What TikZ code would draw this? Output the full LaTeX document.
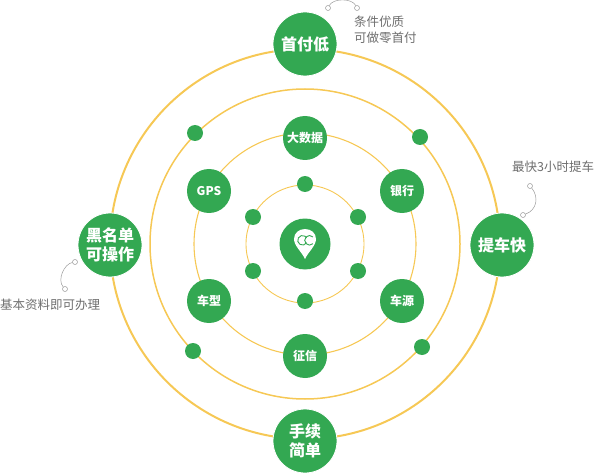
\documentclass[tikz,border=0pt]{standalone}
\usepackage{fontspec}
\setmainfont{Noto Sans CJK SC}
\definecolor{ringyellow}{HTML}{F6C855}
\definecolor{dotgreen}{HTML}{33A852}
\definecolor{notegray}{HTML}{6E6E6E}
\definecolor{hookgray}{HTML}{9A9A9A}
\tikzset{
  ring/.style={draw=ringyellow},
  bigdot/.style={circle, fill=dotgreen, draw=white, line width=.8pt, minimum size=64pt, inner sep=0pt, align=center, text=white, font=\fontsize{16}{19}\selectfont\bfseries},
  middot/.style={circle, fill=dotgreen, minimum size=44pt, inner sep=0pt, text=white, font=\fontsize{12}{14}\selectfont\bfseries},
  smalldot/.style={circle, fill=dotgreen, minimum size=16pt, inner sep=0pt},
  note/.style={text=notegray, inner sep=0pt, align=left, font=\fontsize{12.5}{15.5}\selectfont},
  hookend/.style={circle, draw=hookgray, fill=white, line width=.5pt, minimum size=5pt, inner sep=0pt},
  hook/.style={draw=hookgray, line width=.5pt}
}
\begin{document}
\begin{tikzpicture}[x=1pt,y=-1pt]
  \useasboundingbox (0,0) rectangle (594,473);
  % ------ rings -----------------
  \coordinate (center) at (305,244);
  \draw [ring, line width=2pt] (center) circle (195);
  \draw [ring, line width=1.5pt] (center) circle (155);
  \draw [ring, line width=1.1pt] (center) circle (111);
  \draw [ring, line width=.9pt] (center) circle (59);
  % ------ outer -----------------
  \node [bigdot] (low) at (305,44) {首付低};
  \node [bigdot] (fast) at (502,245) {提车快};
  \node [bigdot] (black) at (110,245) {黑名单\\可操作};
  \node [bigdot] (easy) at (305,441) {手续\\简单};
  % ------ second ring -----------------
  \foreach \name/\px/\py in {a/195/133, b/420/137, c/193/351, d/422/347}
    \node [smalldot] (\name) at (\px,\py) {};
  % ------ third ring -----------------
  \node [middot] (data) at (305,138) {大数据};
  \node [middot] (gps) at (209,191) {GPS};
  \node [middot] (bank) at (402,191) {银行};
  \node [middot] (model) at (209,301) {车型};
  \node [middot] (source) at (402,301) {车源};
  \node [middot] (credit) at (305,356) {征信};
  % ------ inner ring -----------------
  \foreach \name/\px/\py in {e/305/184, f/253/217, g/358/217, h/253/271, i/358/271, j/305/301}
    \node [smalldot] (\name) at (\px,\py) {};
  % ------ pin -----------------
  \node [circle, fill=dotgreen, minimum size=51pt, inner sep=0pt] (pin) at (center) {};
  \fill [white] (305,259) .. controls (302,252) and (294,246) .. (294,239)
    .. controls (294,233) and (299,229) .. (305,229)
    .. controls (311,229) and (316,233) .. (316,239)
    .. controls (316,246) and (308,252) .. (305,259) -- cycle;
  \draw [dotgreen, line width=.9pt] (306.66,242.7) arc (30:330:4.8);
  \draw [dotgreen, line width=.9pt] (312.9,243.7) arc (45:315:4.8);
  % ------ notes -----------------
  \node [note, anchor=west] (lownote) at (354,30) {条件优质\\可做零首付};
  \node [note, anchor=west] (fastnote) at (512,167) {最快3小时提车};
  \node [note, anchor=west] (blacknote) at (0,305) {基本资料即可办理};
  \node [hookend] (h1) at (328,8) {};
  \node [hookend] (h2) at (357,8) {};
  \draw [hook] (h1) .. controls (333,-2) and (352,-2) .. (h2);
  \node [hookend] (h3) at (530,186) {};
  \node [hookend] (h4) at (523,215) {};
  \draw [hook] (h3) .. controls (539,197) and (537,210) .. (h4);
  \node [hookend] (h5) at (75,262) {};
  \node [hookend] (h6) at (65,289) {};
  \draw [hook] (h5) .. controls (64,264) and (57,280) .. (h6);
\end{tikzpicture}
\end{document}
